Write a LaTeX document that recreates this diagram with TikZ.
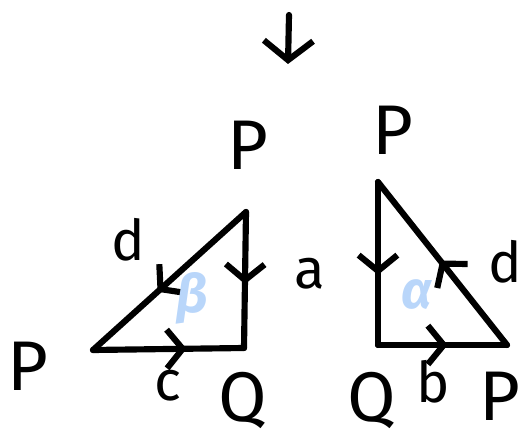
\documentclass[tikz,border=0pt]{standalone}
\usepackage{fontspec}
\setmainfont{Fira Sans}
\usepackage{xcolor}
\usetikzlibrary{arrows.meta,decorations.markings,calc}

\definecolor{angleblue}{RGB}{185,214,250}

\tikzset{
    edge/.style={line width=3.5pt, line cap=round, line join=round},
    midarrow/.style={postaction={decorate}, decoration={markings,
        mark=at position #1 with {\arrow{Straight Barb[length=9pt, width=22pt, line width=3.5pt]}}}},
    vertex/.style={font=\fontsize{40}{44}\selectfont, inner sep=0pt},
    side/.style={font=\fontsize{32}{36}\selectfont, inner sep=0pt},
    angle/.style={font=\fontsize{30}{34}\selectfont\bfseries\itshape, text=angleblue, inner sep=0pt}
}

\begin{document}
\begin{tikzpicture}[x=0.02cm, y=-0.02cm]
    \useasboundingbox (0,0) rectangle (521,439);

    % Arrow on top
    \coordinate (arrtop) at (289,15);
    \coordinate (arrbot) at (288,64);
    \draw[edge, -{Straight Barb[length=11pt, width=28pt, line width=3.5pt]}] (arrtop) -- (arrbot);

    % Left triangle
    \coordinate (LT) at (246,212);
    \coordinate (LR) at (244,348);
    \coordinate (LL) at (93,350);
    \draw[edge, midarrow=0.58] (LT) -- (LL);
    \draw[edge, midarrow=0.53] (LT) -- (LR);
    \draw[edge, midarrow=0.62] (LL) -- (LR);

    % Right triangle
    \coordinate (RT) at (378,182);
    \coordinate (RL) at (378,345);
    \coordinate (RR) at (507,345);
    \draw[edge, midarrow=0.57] (RT) -- (RL);
    \draw[edge, midarrow=0.52] (RR) -- (RT);
    \draw[edge, midarrow=0.54] (RL) -- (RR);

    % Vertex labels
    \node[vertex] (ptopl) at (248,145) {P};
    \node[vertex] (pleft) at (28,366) {P};
    \node[vertex] (qleft) at (243,400) {Q};
    \node[vertex] (ptopr) at (393,130) {P};
    \node[vertex] (qright) at (372,400) {Q};
    \node[vertex] (pright) at (500,396) {P};

    % Side labels
    \node[side] (dleft) at (128,240) {d};
    \node[side] (aside) at (310,274) {a};
    \node[side] (cside) at (168,386) {c};
    \node[side] (bside) at (433,382) {b};
    \node[side] (dright) at (505,262) {d};

    % Angles
    \node[angle] (beta) at (192,298) {β};
    \node[angle] (alpha) at (417,295) {α};
\end{tikzpicture}
\end{document}
